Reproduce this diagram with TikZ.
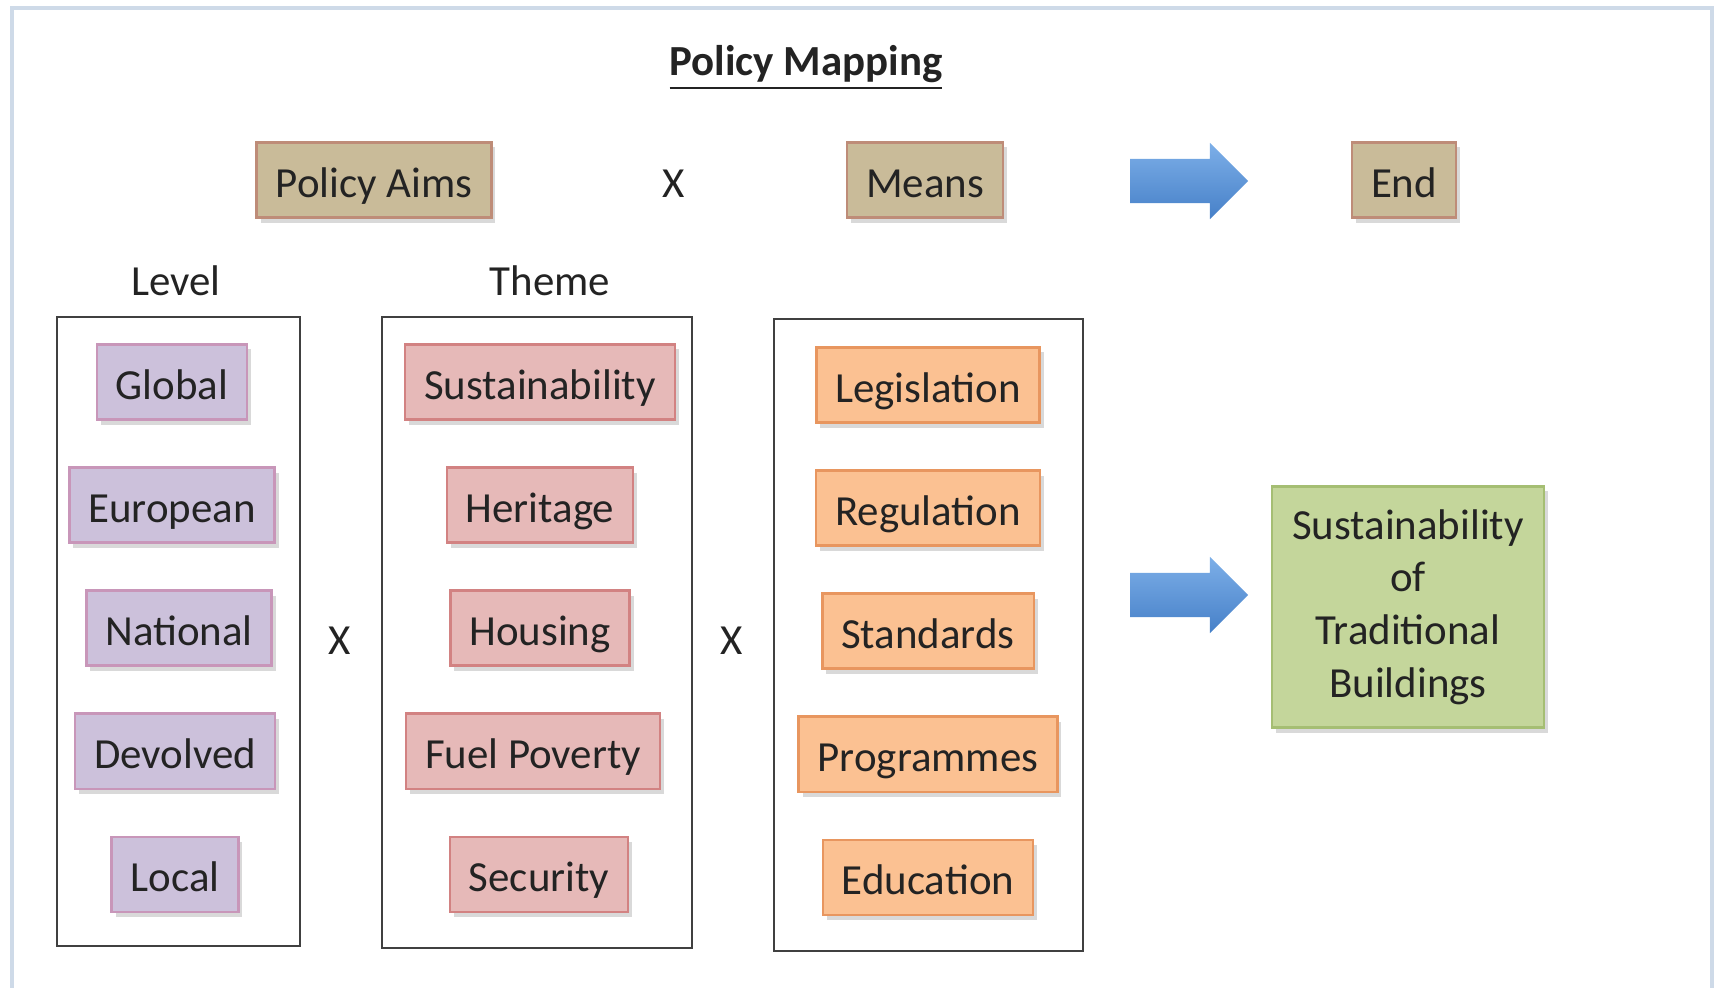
\documentclass[tikz,border=0pt]{standalone}
\usepackage{fontspec}
\setmainfont{Carlito}
\usetikzlibrary{positioning,shapes.arrows,shadows}
\definecolor{ink}{RGB}{35,35,35}
\definecolor{framecol}{RGB}{206,218,232}
\definecolor{aimfill}{RGB}{201,187,153}
\definecolor{aimline}{RGB}{190,140,120}
\definecolor{levelfill}{RGB}{204,193,219}
\definecolor{levelline}{RGB}{200,150,185}
\definecolor{themefill}{RGB}{230,185,184}
\definecolor{themeline}{RGB}{210,130,130}
\definecolor{meansfill}{RGB}{251,193,146}
\definecolor{meansline}{RGB}{232,150,95}
\definecolor{endfill}{RGB}{196,214,155}
\definecolor{endline}{RGB}{165,190,115}
\definecolor{arrowtop}{RGB}{125,175,232}
\definecolor{arrowbot}{RGB}{70,128,200}

\begin{document}
\begin{tikzpicture}[x=0.01cm,y=-0.01cm,node distance=1.23cm,
  tag/.style={rectangle,line width=0.7pt,minimum height=0.75cm,inner xsep=0.19cm,
    inner ysep=2pt,text height=12.2pt,text depth=2.5pt,
    text=ink,font=\fontsize{12.2}{15}\selectfont,
    drop shadow={shadow xshift=0.04cm,shadow yshift=-0.05cm,opacity=0.3}},
  aim/.style={tag,fill=aimfill,draw=aimline},
  level/.style={tag,fill=levelfill,draw=levelline},
  theme/.style={tag,fill=themefill,draw=themeline},
  means/.style={tag,fill=meansfill,draw=meansline},
  plain/.style={text=ink,font=\fontsize{12.2}{15}\selectfont},
  group/.style={draw=black!75,line width=0.7pt},
  bigarrow/.style={single arrow,minimum height=1.18cm,
    single arrow head extend=0.16cm,inner xsep=0pt,inner ysep=0.215cm,
    top color=arrowtop,bottom color=arrowbot,draw=none}]
  \useasboundingbox (0,0) rectangle (1724,987);
  \draw[framecol,line width=1pt] (12,995) |- (1712,8) -- (1712,995);
  %
  \node[plain,font=\fontsize{12.2}{15}\selectfont\bfseries] (Title) at (806,68) {\underline{Policy Mapping}};
  \node[aim] (Aims) at (374,180) {Policy Aims};
  \node[plain] (TimesTop) at (674,184) {X};
  \node[aim] (Means) at (925,180) {Means};
  \node[bigarrow] (ArrowTop) at (1178,181) {};
  \node[aim] (End) at (1404,180) {End};
  %
  \node[plain] (Level) at (176,281) {Level};
  \node[plain] (Theme) at (550,281) {Theme};
  \draw[group] (57,317) rectangle (300,946);
  \draw[group] (382,317) rectangle (692,948);
  \draw[group] (774,319) rectangle (1083,951);
  %
  \node[level] (Global) at (172,382) {Global};
  \node[level,below of=Global] (European) {European};
  \node[level,below of=European,xshift=0.07cm] (National) {National};
  \node[level,below of=National,xshift=-0.04cm] (Devolved) {Devolved};
  \node[level,below of=Devolved] (Local) {Local};
  %
  \node[theme] (Sustain) at (540,382) {Sustainability};
  \node[theme,below of=Sustain] (Heritage) {Heritage};
  \node[theme,below of=Heritage] (Housing) {Housing};
  \node[theme,below of=Housing,xshift=-0.07cm] (Fuel) {Fuel Poverty};
  \node[theme,below of=Fuel,xshift=0.06cm] (Security) {Security};
  %
  \node[means] (Legislation) at (928,385) {Legislation};
  \node[means,below of=Legislation] (Regulation) {Regulation};
  \node[means,below of=Regulation] (Standards) {Standards};
  \node[means,below of=Standards] (Programmes) {Programmes};
  \node[means,below of=Programmes] (Education) {Education};
  %
  \node[plain] (TimesLeft) at (340,641) {X};
  \node[plain] (TimesRight) at (732,641) {X};
  \node[bigarrow] (ArrowLow) at (1178,595) {};
  \node[tag,fill=endfill,draw=endline,text height=,text depth=,minimum width=2.72cm,
    minimum height=2.41cm,align=center] (Outcome) at (1408,607)
    {Sustainability\\of\\Traditional\\Buildings};
\end{tikzpicture}
\end{document}
